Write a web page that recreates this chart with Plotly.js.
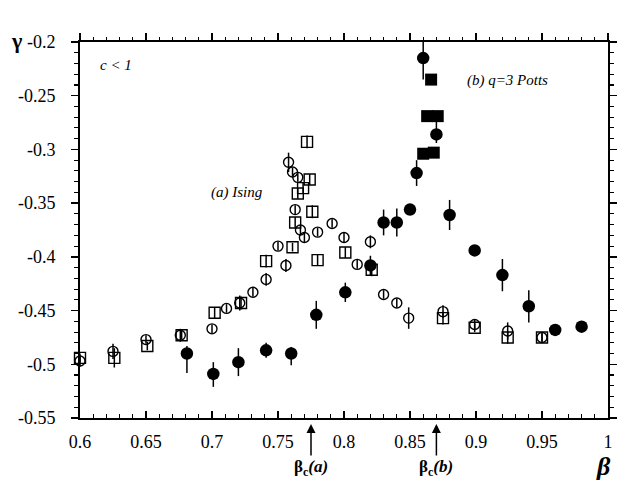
<!DOCTYPE html>
<html>
<head>
<meta charset="utf-8">
<script src="https://cdn.plot.ly/plotly-3.0.1.min.js"></script>
<style>html,body{margin:0;padding:0;background:#fff;}</style>
</head>
<body>
<div id="chart" style="width:639px;height:491px;"></div>
<script>
// Ising (a): open circles
var isingCircX = [0.600,0.625,0.650,0.676,0.700,0.711,0.721,0.731,0.741,0.750,0.756,0.758,0.761,0.765,0.763,0.767,0.770,0.780,0.791,0.800,0.810,0.820,0.830,0.840,0.849,0.875,0.899,0.924,0.950];
var isingCircY = [-0.497,-0.488,-0.477,-0.473,-0.467,-0.448,-0.443,-0.433,-0.421,-0.390,-0.408,-0.312,-0.321,-0.326,-0.356,-0.375,-0.382,-0.377,-0.369,-0.382,-0.407,-0.386,-0.435,-0.443,-0.457,-0.451,-0.463,-0.469,-0.475];
var isingCircErr = [0.005,0.007,0.004,0.006,0.004,0.004,0.007,0.004,0.006,0.004,0.006,0.009,0.004,0.004,0.004,0.004,0.005,0.004,0.004,0.005,0.004,0.006,0.004,0.004,0.010,0.006,0.005,0.008,0.004];

// Ising (a): open squares
var isingSqX = [0.600,0.626,0.651,0.677,0.702,0.722,0.741,0.761,0.763,0.765,0.769,0.772,0.774,0.776,0.780,0.801,0.821,0.875,0.899,0.924,0.950];
var isingSqY = [-0.494,-0.494,-0.483,-0.473,-0.452,-0.443,-0.404,-0.391,-0.368,-0.341,-0.336,-0.293,-0.328,-0.358,-0.403,-0.396,-0.412,-0.457,-0.466,-0.475,-0.475];
var isingSqErr = [0.004,0.009,0.004,0.004,0.005,0.006,0.006,0.004,0.005,0.005,0.005,0.006,0.005,0.006,0.005,0.005,0.006,0.006,0.004,0.006,0.004];

// q=3 Potts (b): filled circles
var pottsCircX = [0.681,0.701,0.720,0.741,0.760,0.779,0.801,0.820,0.830,0.840,0.850,0.855,0.860,0.870,0.880,0.899,0.920,0.940,0.960,0.980];
var pottsCircY = [-0.490,-0.509,-0.498,-0.487,-0.490,-0.454,-0.433,-0.408,-0.368,-0.368,-0.356,-0.322,-0.215,-0.286,-0.361,-0.394,-0.417,-0.446,-0.468,-0.465];
var pottsCircErrUp = [0.007,0.011,0.013,0.007,0.006,0.013,0.009,0.009,0.012,0.013,0.005,0.012,0.015,0.017,0.014,0.005,0.015,0.015,0.004,0.004];
var pottsCircErrDn = [0.018,0.012,0.013,0.007,0.011,0.013,0.009,0.009,0.012,0.013,0.005,0.012,0.020,0.008,0.014,0.005,0.015,0.015,0.004,0.004];

// q=3 Potts (b): filled squares
var pottsSqX = [0.866,0.863,0.871,0.860,0.868];
var pottsSqY = [-0.235,-0.269,-0.269,-0.304,-0.303];
var pottsSqErr = [0.004,0.004,0.004,0.004,0.004];

// axis ticks
var xTickVals = [0.6,0.65,0.7,0.75,0.8,0.85,0.9,0.95,1.0];
var xTickText = ['0.6','0.65','0.7','0.75','0.8','0.85','0.9','0.95','1'];
var yTickVals = [-0.2,-0.25,-0.3,-0.35,-0.4,-0.45,-0.5,-0.55];
var yTickText = ['-0.2','-0.25','-0.3','-0.35','-0.4','-0.45','-0.5','-0.55'];

// critical points
var betaC = [0.775, 0.870];
var betaCLabels = ['<b>β<sub>c</sub><i>(a)</i></b>', '<b>β<sub>c</sub><i>(b)</i></b>'];

var serif = 'Liberation Serif';

function errObj(up, dn) {
  return {type:'data', symmetric: dn ? false : true, array: up, arrayminus: dn || up,
          width:0, thickness:1.5, color:'black'};
}

var traces = [
  {x: isingCircX, y: isingCircY, type:'scatter', mode:'markers', cliponaxis:false,
   marker:{symbol:'circle-open', size:10, color:'black', line:{width:1.4, color:'black'}},
   error_y: errObj(isingCircErr), hoverinfo:'x+y'},
  {x: isingSqX, y: isingSqY, type:'scatter', mode:'markers', cliponaxis:false,
   marker:{symbol:'square-open', size:11, color:'black', line:{width:1.4, color:'black'}},
   error_y: errObj(isingSqErr), hoverinfo:'x+y'},
  {x: pottsCircX, y: pottsCircY, type:'scatter', mode:'markers', cliponaxis:false, xaxis:'x2',
   marker:{symbol:'circle', size:12.5, color:'black'},
   error_y: errObj(pottsCircErrUp, pottsCircErrDn), hoverinfo:'x+y'},
  {x: pottsSqX, y: pottsSqY, type:'scatter', mode:'markers', cliponaxis:false,
   marker:{symbol:'square', size:12, color:'black'},
   error_y: errObj(pottsSqErr), hoverinfo:'x+y'}
];

var annotations = [
  {text:'<b>γ</b>', xref:'paper', yref:'paper', x:-0.12, y:1.005, xanchor:'center', yanchor:'middle',
   showarrow:false, font:{family:serif, size:22, color:'black'}},
  {text:'<b><i>β</i></b>', xref:'paper', yref:'paper', x:0.992, y:-0.13, xanchor:'center', yanchor:'middle',
   showarrow:false, font:{family:serif, size:26, color:'black'}},
  {text:'<i>c < 1</i>', xref:'x', yref:'y', x:0.627, y:-0.2214, xanchor:'center', yanchor:'middle',
   showarrow:false, font:{family:serif, size:15, color:'black'}},
  {text:'<i>(a) Ising</i>', xref:'x', yref:'y', x:0.719, y:-0.340, xanchor:'center', yanchor:'middle',
   showarrow:false, font:{family:serif, size:15, color:'black'}},
  {text:'<i>(b) q=3 Potts</i>', xref:'x', yref:'y', x:0.924, y:-0.2354, xanchor:'center', yanchor:'middle',
   showarrow:false, font:{family:serif, size:15, color:'black'}}
];
betaC.forEach(function(b, i) {
  annotations.push({text:betaCLabels[i], xref:'x', yref:'paper', x:b, y:-0.016, showarrow:true,
    ax:0, ay:44, arrowhead:2, arrowsize:1.2, arrowwidth:1.5, arrowcolor:'black', standoff:0,
    font:{family:serif, size:17, color:'black'}});
});

var layout = {
  width:639, height:491,
  margin:{l:80, r:31, t:42, b:73},
  paper_bgcolor:'white', plot_bgcolor:'white',
  showlegend:false,
  font:{family:serif, color:'black', size:18},
  xaxis:{range:[0.6,1.0], tickvals:xTickVals, ticktext:xTickText, ticks:'inside', ticklen:7,
    tickwidth:1.3, tickcolor:'black', showline:true, linecolor:'black', linewidth:2,
    showgrid:false, zeroline:false, mirror:false, ticklabelstandoff:6,
    minor:{dtick:0.01, tick0:0.6, ticks:'inside', ticklen:4, tickwidth:1.1, tickcolor:'black', showgrid:false},
    tickfont:{family:serif, size:18, color:'black'}},
  xaxis2:{range:[0.6,1.0], overlaying:'x', side:'top', anchor:'y', tickvals:xTickVals,
    showticklabels:false, ticks:'outside', ticklen:7, tickwidth:1.3, tickcolor:'black',
    showline:true, linecolor:'black', linewidth:2, showgrid:false, zeroline:false,
    minor:{dtick:0.01, tick0:0.6, ticks:'outside', ticklen:3, tickwidth:1.1, tickcolor:'black', showgrid:false}},
  yaxis:{range:[-0.55,-0.2], tickvals:yTickVals, ticktext:yTickText, ticks:'outside', ticklen:7,
    tickwidth:1.3, tickcolor:'black', showline:true, linecolor:'black', linewidth:2,
    showgrid:false, zeroline:false, mirror:'ticks', ticklabelstandoff:12,
    minor:{dtick:0.01, tick0:-0.55, ticks:'outside', ticklen:4, tickwidth:1.1, tickcolor:'black', showgrid:false},
    tickfont:{family:serif, size:18, color:'black'}},
  annotations: annotations
};

Plotly.newPlot('chart', traces, layout, {displayModeBar:false, staticPlot:true});
</script>
</body>
</html>
